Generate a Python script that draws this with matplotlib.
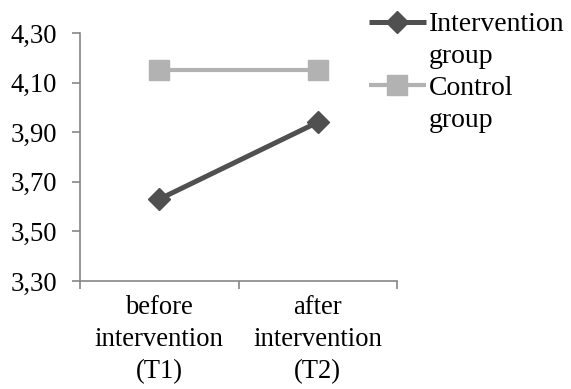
import matplotlib
matplotlib.use('Agg')
from matplotlib import pyplot as plt
from matplotlib.lines import Line2D

plt.rcParams['font.family'] = ['Liberation Serif', 'DejaVu Serif']

categories = ['before\nintervention\n(T1)', 'after\nintervention\n(T2)']
intervention = [3.63, 3.94]
control = [4.15, 4.15]
yticks = [3.30, 3.50, 3.70, 3.90, 4.10, 4.30]

fig = plt.figure(figsize=(5.71, 3.89), dpi=100)
ax = fig.add_axes([80/571, 1-281/389, 317/571, 248/389])

x = list(range(len(categories)))
h1, = ax.plot(x, intervention, color='#505050', lw=3.6, marker='D', markersize=11,
              solid_capstyle='butt')
h2, = ax.plot(x, control, color='#b2b2b2', lw=3.0, marker='s', markersize=14,
              solid_capstyle='butt')

ax.set_xlim(-0.5, len(categories) - 0.5)
ax.set_ylim(yticks[0], yticks[-1])
ax.set_yticks(yticks)
ax.set_yticklabels(['{:.2f}'.format(v).replace('.', ',') for v in yticks])

# category boundaries carry the tick marks, labels sit between them
ax.set_xticks([i - 0.5 for i in range(len(categories) + 1)])
ax.set_xticklabels([])
ax.set_xticks(x, minor=True)
ax.set_xticklabels(categories, minor=True, linespacing=1.38)
ax.tick_params(axis='x', which='minor', length=0, pad=10)

ax.tick_params(axis='both', which='major', labelsize=19.2, color='#868686',
               width=1.2, length=6)
ax.tick_params(axis='x', which='minor', labelsize=19.2)
ax.tick_params(axis='y', pad=10.5)
for side in ('top', 'right'):
    ax.spines[side].set_visible(False)
for side in ('left', 'bottom'):
    ax.spines[side].set_color('#868686')
    ax.spines[side].set_linewidth(1.2)

# wrapped legend labels: the marker sits on the first line only
blank = Line2D([], [], color='none')
fig.legend([h1, blank, h2, blank], ['Intervention', 'group', 'Control', 'group'],
           loc='upper left', bbox_to_anchor=(369/571, 1 - 12/389),
           frameon=False, fontsize=20, handlelength=2.05,
           handletextpad=0.1, borderpad=0.0, borderaxespad=0.0,
           labelspacing=0.23)

fig.savefig('out.png', dpi=100)
